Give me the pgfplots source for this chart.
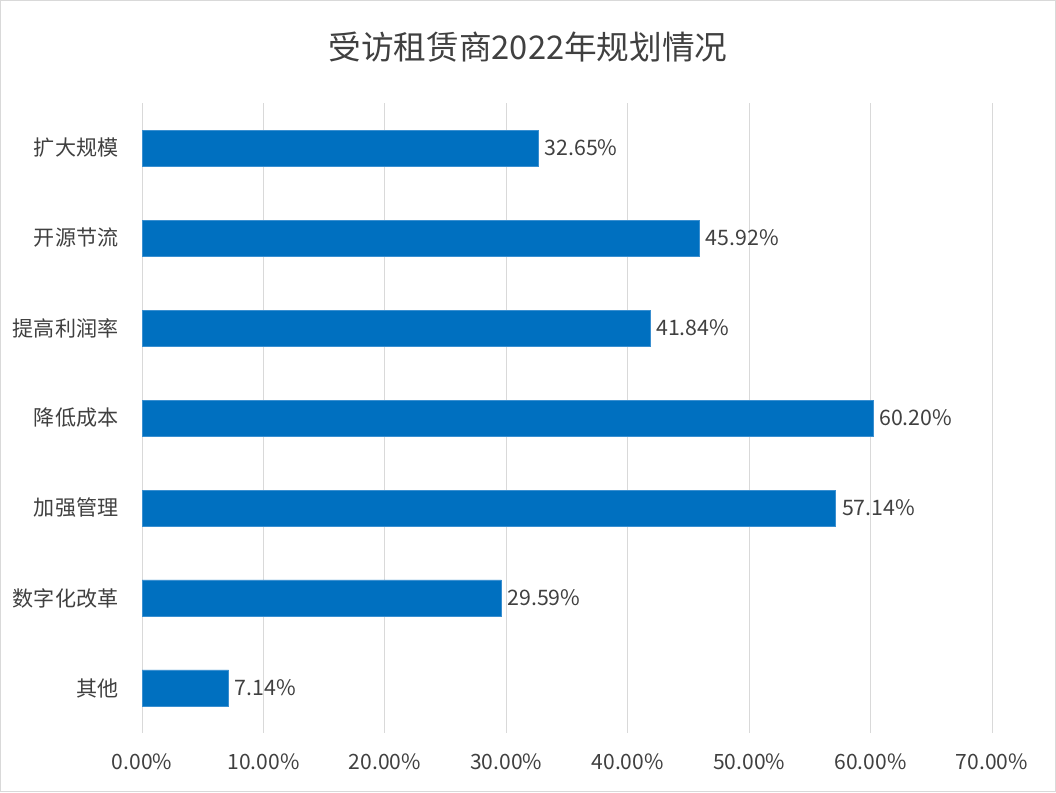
\documentclass[border=0pt]{standalone}
\usepackage{pgfplots}
\pgfplotsset{compat=1.18}
\usepackage{fontspec}
\setmainfont{Noto Sans CJK SC}
\definecolor{barblue}{HTML}{0070C0}
\definecolor{baredge}{HTML}{3A8FD0}
\definecolor{txt}{HTML}{404040}
\definecolor{gridc}{HTML}{D9D9D9}
\begin{document}
\begin{tikzpicture}[x=1pt,y=1pt]
\path[draw=gridc, line width=0.75pt] (0.375,0.375) rectangle (791.625,593.625);
\begin{axis}[
  at={(106.5pt,44.25pt)}, anchor=south west,
  scale only axis, width=637.5pt, height=472.5pt,
  xbar, bar width=27pt,
  xmin=0, xmax=70, ymin=-0.5, ymax=6.5,
  xtick={0,10,20,30,40,50,60,70},
  xticklabels={0.00\%,10.00\%,20.00\%,30.00\%,40.00\%,50.00\%,60.00\%,70.00\%},
  ytick={0,1,2,3,4,5,6},
  yticklabels={其他,数字化改革,加强管理,降低成本,提高利润率,开源节流,扩大规模},
  xmajorgrids, grid style={gridc, line width=0.75pt},
  axis line style={draw=none},
  major tick style={draw=none},
  tick label style={font=\fontsize{15.8}{18}\selectfont, text=txt},
  xticklabel style={yshift=-12pt},
  yticklabel style={xshift=-10pt},
  nodes near coords,
  point meta=explicit symbolic,
  every node near coord/.append style={font=\fontsize{16}{18}\selectfont, text=txt, anchor=west, xshift=1pt},
]
\addplot[fill=barblue, draw=baredge, line width=0.6pt] coordinates {
  (7.14,0) [7.14\%]
  (29.59,1) [29.59\%]
  (57.14,2) [57.14\%]
  (60.20,3) [60.20\%]
  (41.84,4) [41.84\%]
  (45.92,5) [45.92\%]
  (32.65,6) [32.65\%]
};
\end{axis}
\node[text=txt, font=\fontsize{24.5}{28}\selectfont] at (396,558.75) {受访租赁商2022年规划情况};
\end{tikzpicture}
\end{document}
